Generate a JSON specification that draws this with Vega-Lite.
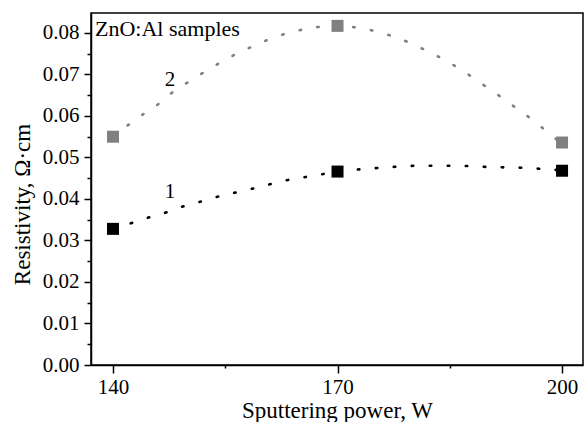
{
  "$schema": "https://vega.github.io/schema/vega-lite/v6.json",
  "width": 492,
  "height": 352,
  "autosize": {"type": "none"},
  "padding": {"left": 91, "top": 13, "right": 2, "bottom": 57},
  "background": "white",
  "config": {
    "view": {"stroke": "black", "strokeWidth": 1.5},
    "font": "Liberation Serif",
    "axis": {
      "domainColor": "black", "domainWidth": 1.5, "tickColor": "black", "tickWidth": 1.5,
      "labelColor": "black", "titleColor": "black", "labelFont": "Liberation Serif", "titleFont": "Liberation Serif",
      "labelFontSize": 21, "titleFontSize": 24, "titleFontWeight": "normal", "grid": false
    }
  },
  "datasets": {
    "points": [
      {"power": 140, "rho": 0.0328, "series": "1"},
      {"power": 170, "rho": 0.0466, "series": "1"},
      {"power": 200, "rho": 0.0468, "series": "1"},
      {"power": 140, "rho": 0.0550, "series": "2"},
      {"power": 170, "rho": 0.0817, "series": "2"},
      {"power": 200, "rho": 0.0536, "series": "2"}
    ],
    "curves": [
      {"power": 140.0, "rho": 0.0333, "series": "1"},
      {"power": 142.5, "rho": 0.0342, "series": "1"},
      {"power": 144.9, "rho": 0.0356, "series": "1"},
      {"power": 147.2, "rho": 0.0368, "series": "1"},
      {"power": 149.5, "rho": 0.0383, "series": "1"},
      {"power": 151.8, "rho": 0.0394, "series": "1"},
      {"power": 154.1, "rho": 0.0406, "series": "1"},
      {"power": 156.5, "rho": 0.0416, "series": "1"},
      {"power": 158.9, "rho": 0.0426, "series": "1"},
      {"power": 161.3, "rho": 0.0437, "series": "1"},
      {"power": 163.7, "rho": 0.0447, "series": "1"},
      {"power": 166.1, "rho": 0.0454, "series": "1"},
      {"power": 168.4, "rho": 0.0461, "series": "1"},
      {"power": 170.9, "rho": 0.0467, "series": "1"},
      {"power": 173.3, "rho": 0.0472, "series": "1"},
      {"power": 175.7, "rho": 0.0475, "series": "1"},
      {"power": 178.1, "rho": 0.0478, "series": "1"},
      {"power": 180.6, "rho": 0.0480, "series": "1"},
      {"power": 183.0, "rho": 0.0480, "series": "1"},
      {"power": 185.4, "rho": 0.0480, "series": "1"},
      {"power": 187.8, "rho": 0.0479, "series": "1"},
      {"power": 190.2, "rho": 0.0477, "series": "1"},
      {"power": 192.7, "rho": 0.0476, "series": "1"},
      {"power": 195.1, "rho": 0.0475, "series": "1"},
      {"power": 197.5, "rho": 0.0472, "series": "1"},
      {"power": 200.0, "rho": 0.0469, "series": "1"},
      {"power": 140.0, "rho": 0.0552, "series": "2"},
      {"power": 142.1, "rho": 0.0579, "series": "2"},
      {"power": 144.1, "rho": 0.0605, "series": "2"},
      {"power": 146.1, "rho": 0.0629, "series": "2"},
      {"power": 148.1, "rho": 0.0659, "series": "2"},
      {"power": 150.1, "rho": 0.0682, "series": "2"},
      {"power": 152.2, "rho": 0.0706, "series": "2"},
      {"power": 154.2, "rho": 0.0727, "series": "2"},
      {"power": 156.4, "rho": 0.0749, "series": "2"},
      {"power": 158.6, "rho": 0.0767, "series": "2"},
      {"power": 160.9, "rho": 0.0785, "series": "2"},
      {"power": 163.2, "rho": 0.0799, "series": "2"},
      {"power": 165.6, "rho": 0.0809, "series": "2"},
      {"power": 168.0, "rho": 0.0815, "series": "2"},
      {"power": 170.5, "rho": 0.0816, "series": "2"},
      {"power": 172.9, "rho": 0.0812, "series": "2"},
      {"power": 175.3, "rho": 0.0803, "series": "2"},
      {"power": 177.5, "rho": 0.0791, "series": "2"},
      {"power": 179.8, "rho": 0.0775, "series": "2"},
      {"power": 181.9, "rho": 0.0757, "series": "2"},
      {"power": 184.1, "rho": 0.0737, "series": "2"},
      {"power": 186.2, "rho": 0.0715, "series": "2"},
      {"power": 188.2, "rho": 0.0691, "series": "2"},
      {"power": 190.2, "rho": 0.0666, "series": "2"},
      {"power": 192.2, "rho": 0.0641, "series": "2"},
      {"power": 194.1, "rho": 0.0616, "series": "2"},
      {"power": 196.1, "rho": 0.0590, "series": "2"},
      {"power": 198.0, "rho": 0.0562, "series": "2"},
      {"power": 200.0, "rho": 0.0533, "series": "2"}
    ],
    "labels": [
      {"power": 137.6, "rho": 0.0793, "text": "ZnO:Al samples", "kind": "title"},
      {"power": 147.6, "rho": 0.0687, "text": "2", "kind": "num"},
      {"power": 147.6, "rho": 0.0417, "text": "1", "kind": "num"}
    ]
  },
  "encoding": {
    "x": {
      "field": "power", "type": "quantitative",
      "scale": {"domain": [137.06, 202.8], "nice": false, "zero": false},
      "axis": {
        "title": "Sputtering power, W",
        "titleFontSize": 23,
        "values": [140, 155, 170, 185, 200],
        "labelExpr": "datum.value == 155 || datum.value == 185 ? '' : format(datum.value, 'd')",
        "tickSize": {"condition": {"test": "datum.value == 155 || datum.value == 185", "value": 3}, "value": 8},
        "labelPadding": 3,
        "titlePadding": 2
      }
    },
    "y": {
      "field": "rho", "type": "quantitative",
      "scale": {"domain": [0, 0.0848], "nice": false},
      "axis": {
        "title": "Resistivity, Ω·cm",
        "titleFontSize": 23,
        "titleY": 191,
        "values": [0, 0.005, 0.01, 0.015, 0.02, 0.025, 0.03, 0.035, 0.04, 0.045, 0.05, 0.055, 0.06, 0.065, 0.07, 0.075, 0.08],
        "labelExpr": "round(datum.value * 1000) % 10 == 0 ? format(datum.value, '.2f') : ''",
        "tickSize": {"condition": {"test": "round(datum.value * 1000) % 10 != 0", "value": 4}, "value": 7},
        "labelPadding": 5,
        "titlePadding": 8
      }
    }
  },
  "layer": [
    {
      "data": {"name": "curves"},
      "transform": [{"filter": "datum.series == '1'"}],
      "mark": {"type": "line", "color": "black", "strokeWidth": 2.6, "strokeCap": "round", "strokeDash": [1.5, 16.5], "interpolate": "monotone"}
    },
    {
      "data": {"name": "curves"},
      "transform": [{"filter": "datum.series == '2'"}],
      "mark": {"type": "line", "color": "#808080", "strokeWidth": 2.6, "strokeCap": "round", "strokeDash": [1.5, 16.5], "interpolate": "monotone"}
    },
    {
      "data": {"name": "points"},
      "mark": {"type": "square", "size": 144, "opacity": 1, "filled": true},
      "encoding": {
        "color": {"field": "series", "type": "nominal", "scale": {"domain": ["1", "2"], "range": ["#000000", "#808080"]}, "legend": null}
      }
    },
    {
      "data": {"name": "labels"},
      "transform": [{"filter": "datum.kind == 'title'"}],
      "mark": {"type": "text", "align": "left", "baseline": "alphabetic", "fontSize": 22, "font": "Liberation Serif", "color": "black"},
      "encoding": {"text": {"field": "text"}}
    },
    {
      "data": {"name": "labels"},
      "transform": [{"filter": "datum.kind == 'num'"}],
      "mark": {"type": "text", "align": "center", "baseline": "middle", "fontSize": 21, "font": "Liberation Serif", "color": "black"},
      "encoding": {"text": {"field": "text"}}
    }
  ]
}
